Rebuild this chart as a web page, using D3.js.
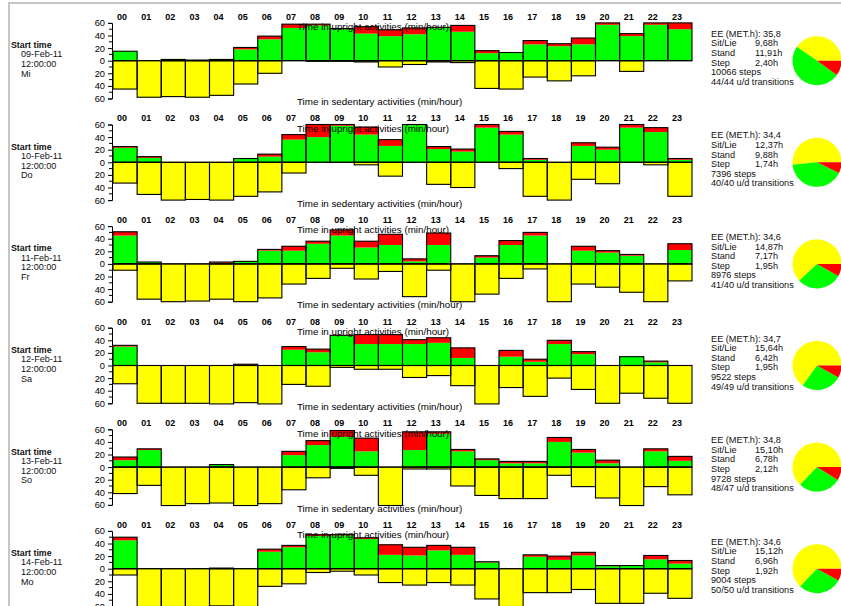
<!DOCTYPE html>
<html>
<head>
<meta charset="utf-8">
<script src="https://cdn.jsdelivr.net/npm/d3@7"></script>
<style>
  html, body { margin: 0; padding: 0; background: #fff; }
  svg { display: block; font-family: "Liberation Sans", Arial, sans-serif; }
</style>
</head>
<body>
<svg id="chart" width="841" height="606"></svg>
<script>
// ---------- DATA ----------
const hours = ["00","01","02","03","04","05","06","07","08","09","10","11","12","13","14","15","16","17","18","19","20","21","22","23"];
const yTickValues = [-60, -40, -20, 0, 20, 40, 60];

const dates = ["09-Feb-11", "10-Feb-11", "11-Feb-11", "12-Feb-11", "13-Feb-11", "14-Feb-11"];
const startTimes = ["12:00:00", "12:00:00", "12:00:00", "12:00:00", "12:00:00", "12:00:00"];
const weekdays = ["Mi", "Do", "Fr", "Sa", "So", "Mo"];

const eeMETh = ["35,8", "34,4", "34,6", "34,7", "34,8", "34,6"];
const sitLieHours = [9.68, 12.37, 14.87, 15.64, 15.10, 15.12];
const standHours = [11.91, 9.88, 7.17, 6.42, 6.78, 6.96];
const stepHours = [2.40, 1.74, 1.95, 1.95, 2.12, 1.92];
const stepCounts = [10066, 7396, 8976, 9522, 9728, 9004];
const transitions = ["44/44", "40/40", "41/40", "49/49", "48/47", "50/50"];

// minutes per hour: standing (green), stepping (red), sedentary (yellow)
const standDay1 = [15, 0, 2, 1, 2, 18, 34, 52, 56, 50, 43, 39, 42, 52, 46, 12, 13, 26, 23, 26, 57, 39, 57, 50];
const stepDay1  = [0, 0, 0, 0, 0, 3, 5, 6, 2, 1, 11, 10, 10, 1, 10, 4, 0, 6, 4, 10, 3, 4, 3, 10];
const sedDay1   = [45, 58, 57, 58, 55, 37, 20, 0, 1, 1, 2, 10, 6, 2, 3, 44, 45, 26, 32, 24, 0, 17, 0, 0];

const standDay2 = [23, 7, 0, 0, 0, 6, 9, 36, 40, 58, 44, 26, 59, 21, 17, 55, 44, 4, 0, 26, 20, 55, 48, 4];
const stepDay2  = [2, 2, 0, 0, 0, 0, 4, 8, 20, 2, 12, 10, 1, 4, 4, 5, 5, 2, 0, 5, 4, 5, 7, 2];
const sedDay2   = [33, 51, 60, 59, 60, 54, 47, 17, 0, 0, 4, 22, 0, 35, 40, 0, 10, 54, 60, 27, 34, 0, 4, 54];

const standDay3 = [45, 3, 0, 0, 2, 4, 21, 21, 32, 45, 26, 30, 4, 30, 0, 10, 30, 45, 0, 21, 18, 13, 0, 22];
const stepDay3  = [6, 0, 0, 0, 1, 0, 2, 7, 4, 9, 10, 17, 4, 19, 0, 3, 7, 5, 0, 7, 3, 2, 0, 10];
const sedDay3   = [10, 56, 60, 59, 56, 60, 54, 32, 23, 7, 24, 12, 52, 10, 60, 48, 23, 8, 60, 32, 37, 45, 60, 27];

const standDay4 = [30, 0, 0, 0, 0, 1, 0, 25, 21, 47, 34, 34, 34, 36, 12, 0, 14, 6, 34, 18, 0, 14, 5, 0];
const stepDay4  = [2, 0, 0, 0, 0, 1, 0, 5, 5, 1, 15, 15, 7, 8, 16, 0, 10, 4, 6, 4, 0, 0, 2, 0];
const sedDay4   = [29, 60, 60, 60, 61, 59, 61, 30, 33, 3, 6, 6, 19, 16, 32, 61, 35, 49, 20, 38, 60, 44, 52, 60];

const standDay5 = [11, 27, 0, 0, 4, 0, 0, 19, 35, 48, 25, 0, 27, 53, 25, 11, 6, 6, 40, 23, 6, 0, 25, 10];
const stepDay5  = [5, 2, 0, 0, 0, 0, 0, 6, 7, 10, 21, 0, 29, 3, 3, 2, 3, 3, 7, 5, 5, 0, 4, 7];
const sedDay5   = [42, 29, 61, 58, 57, 61, 58, 36, 17, 2, 13, 61, 3, 3, 30, 45, 50, 50, 13, 31, 49, 61, 31, 44];

const standDay6 = [45, 0, 0, 0, 1, 0, 27, 34, 52, 53, 47, 22, 21, 29, 22, 10, 0, 19, 14, 21, 4, 5, 15, 8];
const stepDay6  = [5, 0, 0, 0, 0, 0, 4, 3, 2, 1, 2, 16, 13, 8, 12, 1, 0, 3, 6, 5, 1, 0, 6, 5];
const sedDay6   = [10, 60, 60, 60, 59, 60, 28, 24, 6, 4, 10, 22, 26, 22, 26, 48, 60, 38, 38, 33, 55, 55, 39, 47];

const standDays = [standDay1, standDay2, standDay3, standDay4, standDay5, standDay6];
const stepDays  = [stepDay1, stepDay2, stepDay3, stepDay4, stepDay5, stepDay6];
const sedDays   = [sedDay1, sedDay2, sedDay3, sedDay4, sedDay5, sedDay6];

// ---------- DRAW ----------
const svg = d3.select("#chart");
const GREEN = "#00ff00", RED = "#ff0000", YELLOW = "#ffff00";
const FONT = '"Liberation Sans", Arial, sans-serif';

// frame
svg.append("rect").attr("x", 9).attr("y", 3).attr("width", 900).attr("height", 700)
  .attr("fill", "none").attr("stroke", "#b4b4b4").attr("stroke-width", 1.5);

const x = d3.scaleBand().domain(hours).range([113, 692]).paddingInner(0).paddingOuter(0);
const panelTop = 60.7, panelStep = 101.6, halfH = 37.8;

dates.forEach((date, i) => {
  const zy = panelTop + i * panelStep;
  const y = d3.scaleLinear().domain([-60, 60]).range([zy + halfH, zy - halfH]);
  const g = svg.append("g");
  const stand = standDays[i], step = stepDays[i], sed = sedDays[i];

  const rows = hours.map((h, k) => ({ h, stand: stand[k], step: step[k], sed: sed[k] }));

  // fills
  g.selectAll(".st").data(rows).join("rect")
    .attr("x", d => x(d.h)).attr("width", x.bandwidth())
    .attr("y", d => y(d.stand)).attr("height", d => y(0) - y(d.stand))
    .attr("fill", GREEN);
  g.selectAll(".sp").data(rows).join("rect")
    .attr("x", d => x(d.h)).attr("width", x.bandwidth())
    .attr("y", d => y(d.stand + d.step)).attr("height", d => y(d.stand) - y(d.stand + d.step))
    .attr("fill", RED);
  g.selectAll(".sd").data(rows).join("rect")
    .attr("x", d => x(d.h)).attr("width", x.bandwidth())
    .attr("y", y(0)).attr("height", d => y(-d.sed) - y(0))
    .attr("fill", YELLOW);
  // outlines
  g.selectAll(".uo").data(rows.filter(d => d.stand + d.step > 0)).join("rect")
    .attr("x", d => x(d.h)).attr("width", x.bandwidth())
    .attr("y", d => y(d.stand + d.step)).attr("height", d => y(0) - y(d.stand + d.step))
    .attr("fill", "none").attr("stroke", "#000").attr("stroke-width", 1.1);
  g.selectAll(".so").data(rows.filter(d => d.sed > 0)).join("rect")
    .attr("x", d => x(d.h)).attr("width", x.bandwidth())
    .attr("y", y(0)).attr("height", d => y(-d.sed) - y(0))
    .attr("fill", "none").attr("stroke", "#000").attr("stroke-width", 1.1);
  // zero line
  g.append("line").attr("x1", x.range()[0]).attr("x2", x.range()[1])
    .attr("y1", y(0)).attr("y2", y(0)).attr("stroke", "#000").attr("stroke-width", 1);

  // y axis
  const axis = d3.axisLeft(y).tickValues(yTickValues).tickSize(4).tickPadding(3)
    .tickFormat(v => String(Math.abs(v)));
  const ag = g.append("g").attr("transform", `translate(${x.range()[0] - 1},0)`).call(axis);
  ag.select(".domain").attr("stroke", "#000");
  ag.selectAll("text").attr("font-size", 9.3).attr("font-family", FONT).attr("fill", "#000");
  const minor = d3.range(-50, 60, 20);
  ag.selectAll(".minor").data(minor).join("line")
    .attr("x1", -3).attr("x2", 0).attr("y1", d => y(d)).attr("y2", d => y(d))
    .attr("stroke", "#000");

  // hour labels
  g.selectAll(".hl").data(hours).join("text")
    .attr("x", d => x(d) + x.bandwidth() / 2 - 3).attr("y", zy - 41)
    .attr("text-anchor", "middle").attr("font-size", 9).attr("font-weight", "bold")
    .attr("font-family", FONT).text(d => d);

  // titles
  g.append("text").attr("x", 297).attr("y", zy - 30.5).attr("font-size", 9.8)
    .attr("font-family", FONT).text("Time in upright activities (min/hour)");
  g.append("text").attr("x", 297).attr("y", zy + 44.5).attr("font-size", 9.8)
    .attr("font-family", FONT).text("Time in sedentary activities (min/hour)");

  // left info
  const lt = g.append("g").attr("font-family", FONT).attr("font-size", 9.1).attr("fill", "#111");
  lt.append("text").attr("x", 11).attr("y", zy - 12.5).attr("font-weight", "bold")
    .attr("font-size", 8.8).text("Start time");
  [date, startTimes[i], weekdays[i]].forEach((t, k) => {
    lt.append("text").attr("x", 21).attr("y", zy - 3.3 + k * 9.7).text(t);
  });

  // right stats
  const fmt = v => v.toFixed(2).replace(".", ",") + "h";
  const st = g.append("g").attr("font-family", FONT).attr("font-size", 9.2).attr("fill", "#111");
  const sx = 711, sb = zy - 24, ls = 9.6;
  st.append("text").attr("x", sx).attr("y", sb).text("EE (MET.h): " + eeMETh[i]);
  [["Sit/Lie", sitLieHours[i]], ["Stand", standHours[i]], ["Step", stepHours[i]]].forEach((r, k) => {
    st.append("text").attr("x", sx).attr("y", sb + (k + 1) * ls).text(r[0]);
    st.append("text").attr("x", 755).attr("y", sb + (k + 1) * ls).text(fmt(r[1]));
  });
  st.append("text").attr("x", sx).attr("y", sb + 4 * ls).text(stepCounts[i] + " steps");
  st.append("text").attr("x", sx).attr("y", sb + 5 * ls).text(transitions[i] + " u/d transitions");

  // pie
  const pieData = [
    { v: sitLieHours[i], c: YELLOW },
    { v: standHours[i], c: GREEN },
    { v: stepHours[i], c: RED }
  ];
  const pie = d3.pie().sort(null).value(d => d.v)
    .startAngle(Math.PI / 2).endAngle(Math.PI / 2 - 2 * Math.PI);
  const arc = d3.arc().innerRadius(0).outerRadius(24.5);
  g.append("g").attr("transform", `translate(817,${zy})`)
    .selectAll("path").data(pie(pieData)).join("path")
    .attr("d", arc).attr("fill", d => d.data.c);
});
</script>
</body>
</html>
